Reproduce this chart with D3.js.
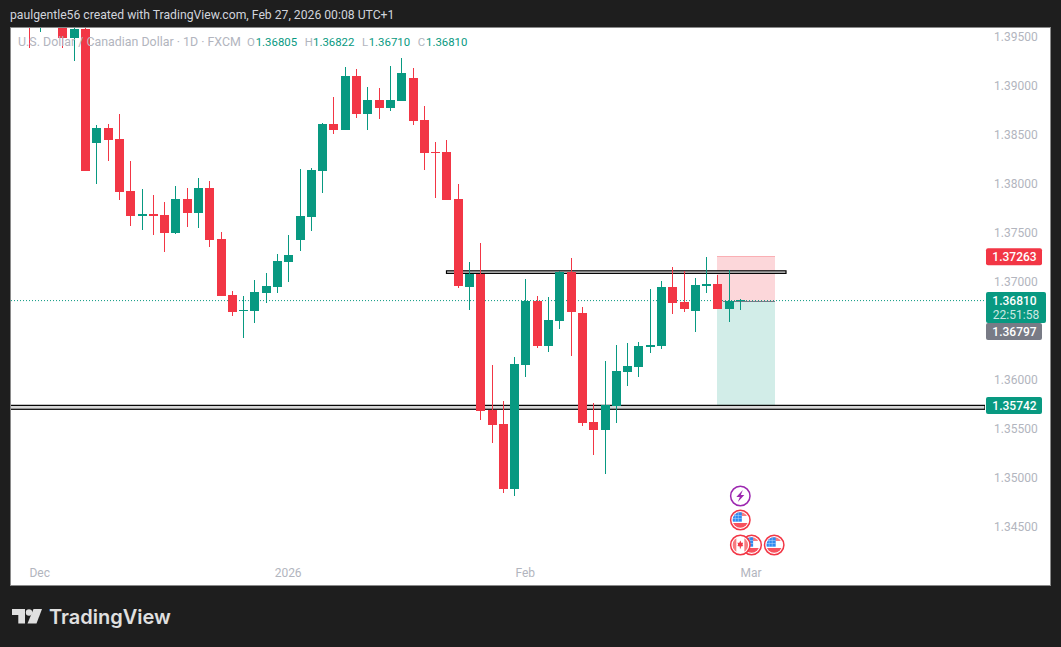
<!DOCTYPE html>
<html>
<head>
<meta charset="utf-8">
<script src="https://cdn.jsdelivr.net/npm/d3@7"></script>
<style>
html, body { margin: 0; padding: 0; background: #1e1e1e; overflow: hidden; }
svg { display: block; }
text { font-family: Roboto, "Liberation Sans", sans-serif; }
</style>
</head>
<body>
<div id="chart"></div>
<script>
// daily bars, last few categories are future sessions on the time axis
var dates = ["Nov 28","Dec 1","Dec 2","Dec 3","Dec 4","Dec 5","Dec 8","Dec 9","Dec 10","Dec 11","Dec 12","Dec 15","Dec 16","Dec 17","Dec 18","Dec 19","Dec 22","Dec 23","Dec 24","Dec 26","Dec 29","Dec 30","Dec 31","Jan 2","Jan 5","Jan 6","Jan 7","Jan 8","Jan 9","Jan 12","Jan 13","Jan 14","Jan 15","Jan 16","Jan 19","Jan 20","Jan 21","Jan 22","Jan 23","Jan 26","Jan 27","Jan 28","Jan 29","Jan 30","Feb 2","Feb 3","Feb 4","Feb 5","Feb 6","Feb 9","Feb 10","Feb 11","Feb 12","Feb 13","Feb 16","Feb 17","Feb 18","Feb 19","Feb 20","Feb 23","Feb 24","Feb 25","Feb 26","Feb 27"];
var futureDates = ["Mar 2","Mar 3","Mar 4"];

var opens = [1.39690,1.39640,1.39780,1.39660,1.39486,1.39578,1.38414,1.38567,1.38455,1.37924,1.37668,1.37689,1.37678,1.37495,1.37842,1.37699,1.37954,1.37433,1.36861,1.36698,1.36698,1.36882,1.36943,1.37198,1.37423,1.37658,1.38128,1.38608,1.38546,1.39098,1.38710,1.38853,1.38771,1.38843,1.39077,1.38649,1.38322,1.38322,1.37842,1.36943,1.37076,1.35687,1.35544,1.34880,1.36147,1.36800,1.36341,1.36596,1.37096,1.36678,1.35564,1.35483,1.35728,1.36075,1.36126,1.36330,1.36341,1.36943,1.36790,1.36698,1.36953,1.36974,1.36718,1.36805];
var highs = [1.39760,1.39760,1.39800,1.39700,1.39600,1.39600,1.38597,1.38608,1.38710,1.38230,1.37944,1.37883,1.37811,1.37975,1.37954,1.38056,1.38026,1.37505,1.36902,1.36851,1.37015,1.37086,1.37280,1.37474,1.38148,1.38158,1.38618,1.38883,1.39190,1.39169,1.38986,1.38975,1.39200,1.39282,1.39180,1.38792,1.38424,1.38444,1.37995,1.37198,1.37392,1.36147,1.35779,1.36228,1.37025,1.36851,1.36841,1.37107,1.37239,1.36739,1.35759,1.36187,1.36351,1.36371,1.36382,1.36923,1.37004,1.37147,1.37107,1.37035,1.37250,1.37066,1.37117,1.36822];
var lows = [1.39384,1.39547,1.39620,1.39384,1.39251,1.38128,1.37995,1.38230,1.37832,1.37566,1.37525,1.37474,1.37301,1.37484,1.37556,1.37546,1.37352,1.36851,1.36647,1.36422,1.36576,1.36780,1.36882,1.36994,1.37311,1.37515,1.37903,1.38506,1.38546,1.38669,1.38546,1.38659,1.38740,1.38843,1.38597,1.38138,1.37852,1.37832,1.36933,1.36708,1.35585,1.35350,1.34839,1.34809,1.36024,1.36320,1.36279,1.36514,1.36239,1.35524,1.35228,1.35034,1.35554,1.35932,1.36024,1.36269,1.36310,1.36667,1.36688,1.36484,1.36882,1.36718,1.36586,1.36710];
var closes = [1.39620,1.39710,1.39650,1.39486,1.39578,1.38128,1.38567,1.38444,1.37913,1.37668,1.37689,1.37668,1.37495,1.37842,1.37699,1.37954,1.37423,1.36851,1.36688,1.36708,1.36892,1.36953,1.37209,1.37270,1.37668,1.38138,1.38608,1.38546,1.39098,1.38710,1.38853,1.38771,1.38853,1.39129,1.38638,1.38312,1.38312,1.37832,1.36953,1.37076,1.35677,1.35534,1.34880,1.36157,1.36800,1.36341,1.36606,1.37096,1.36688,1.35554,1.35483,1.35738,1.36085,1.36136,1.36341,1.36351,1.36943,1.36780,1.36718,1.36964,1.36974,1.36718,1.36800,1.36810];

var priceTicks = [1.395,1.39,1.385,1.38,1.375,1.37,1.36,1.355,1.35,1.345];
var timeTicks = ["Dec 1","Jan 2","Feb 2","Mar 2"];
var timeTickLabels = ["Dec","2026","Feb","Mar"];

var lastPrice = 1.36810;
var stopPrice = 1.37263;
var entryPrice = 1.36797;
var targetPrice = 1.35742;
var countdown = "22:51:58";

var zoneTop = [1.37109, 1.37083];
var zoneBottom = [1.35735, 1.35695];

var events = [
  { date: "Feb 27", row: 0, kind: "bolt" },
  { date: "Feb 27", row: 1, kind: "us" },
  { date: "Mar 2", row: 2, kind: "us" },
  { date: "Feb 27", row: 2, kind: "ca" },
  { date: "Mar 4", row: 2, kind: "us" }
];

var red = "#f23645", teal = "#089981", grey = "#787b86", axisText = "#b2b5be";

var svg = d3.select("#chart").append("svg")
  .attr("width", 1061)
  .attr("height", 647);

svg.append("rect").attr("width", 1061).attr("height", 647).attr("fill", "#1e1e1e");
svg.append("rect")
  .attr("x", 10.5).attr("y", 27.5)
  .attr("width", 1040).attr("height", 558)
  .attr("fill", "#fff")
  .attr("stroke", "#8a8a8a");

svg.append("defs").append("clipPath").attr("id", "pane")
  .append("rect").attr("x", 11).attr("y", 28).attr("width", 974).attr("height", 557);

var x = d3.scalePoint()
  .domain(dates.concat(futureDates))
  .range([28.9, 774.2]);

var y = d3.scaleLinear()
  .domain([1.395, 1.345])
  .range([36.7, 526.3]);

// snap a bar to its pixel column
function col(d) { return Math.round(x(d) - 0.3); }

var pane = svg.append("g").attr("clip-path", "url(#pane)");

// position tool
var toolX = col("Feb 25"), toolW = col("Mar 4") + 1 - toolX;
pane.append("rect")
  .attr("x", toolX).attr("width", toolW)
  .attr("y", Math.round(y(stopPrice))).attr("height", Math.round(y(entryPrice)) - Math.round(y(stopPrice)) + 1)
  .attr("fill", red).attr("fill-opacity", 0.2);
pane.append("rect")
  .attr("x", toolX).attr("width", toolW)
  .attr("y", Math.round(y(entryPrice)) + 1).attr("height", Math.round(y(targetPrice)) - Math.round(y(entryPrice)))
  .attr("fill", teal).attr("fill-opacity", 0.18);
pane.append("line")
  .attr("x1", toolX).attr("x2", toolX + toolW)
  .attr("y1", Math.round(y(stopPrice)) + 0.5).attr("y2", Math.round(y(stopPrice)) + 0.5)
  .attr("stroke", red).attr("stroke-opacity", 0.25);
pane.append("line")
  .attr("x1", x("Feb 26") - 6).attr("x2", toolX + toolW)
  .attr("y1", Math.round(y(entryPrice)) + 0.5).attr("y2", Math.round(y(entryPrice)) + 0.5)
  .attr("stroke", grey).attr("stroke-width", 1.2);

// hand drawn zones
pane.append("rect")
  .attr("x", 446.5).attr("width", 339.5)
  .attr("y", y(zoneTop[0])).attr("height", y(zoneTop[1]) - y(zoneTop[0]))
  .attr("fill", "#d8d8d8").attr("stroke", "#000").attr("stroke-width", 1.2);
pane.append("rect")
  .attr("x", 5).attr("width", 980)
  .attr("y", y(zoneBottom[0])).attr("height", y(zoneBottom[1]) - y(zoneBottom[0]))
  .attr("fill", "#d8d8d8").attr("stroke", "#000").attr("stroke-width", 1.2);

// last price line
pane.append("line")
  .attr("x1", 11).attr("x2", 985)
  .attr("y1", y(lastPrice) + 0.5).attr("y2", y(lastPrice) + 0.5)
  .attr("stroke", teal)
  .attr("stroke-dasharray", "1,2");

// candles
var candles = pane.selectAll("g.candle")
  .data(dates)
  .enter()
  .append("g")
  .attr("class", "candle")
  .attr("fill", function(d, i) { return closes[i] >= opens[i] ? teal : red; });

candles.append("rect")
  .attr("x", function(d) { return col(d); })
  .attr("width", 1)
  .attr("y", function(d, i) { return Math.round(y(highs[i])); })
  .attr("height", function(d, i) { return Math.round(y(lows[i])) - Math.round(y(highs[i])); });

candles.append("rect")
  .attr("x", function(d) { return col(d) - 4; })
  .attr("width", 9)
  .attr("y", function(d, i) { return Math.round(y(Math.max(opens[i], closes[i]))); })
  .attr("height", function(d, i) {
    return Math.max(1, Math.round(y(Math.min(opens[i], closes[i]))) - Math.round(y(Math.max(opens[i], closes[i]))));
  });

// axes
var yAxis = d3.axisRight(y)
  .tickValues(priceTicks)
  .tickSize(0)
  .tickPadding(0)
  .tickFormat(d3.format(".5f"));
var yAxisG = svg.append("g").attr("transform", "translate(994,0)").call(yAxis);
yAxisG.select(".domain").remove();
yAxisG.selectAll("text").attr("fill", axisText).style("font-family", "Roboto").style("font-size", "12px");

var xAxis = d3.axisBottom(x)
  .tickValues(timeTicks)
  .tickSize(0)
  .tickPadding(0)
  .tickFormat(function(d) { return timeTickLabels[timeTicks.indexOf(d)]; });
var xAxisG = svg.append("g").attr("transform", "translate(-1,568.5)").call(xAxis);
xAxisG.select(".domain").remove();
xAxisG.selectAll("text").attr("fill", axisText).style("font-family", "Roboto").style("font-size", "12px");

// price labels
function priceLabel(top, w, h, fill, txt) {
  svg.append("rect").attr("x", 986).attr("y", top).attr("width", w).attr("height", h).attr("rx", 2).attr("fill", fill);
  svg.append("text").attr("x", 1014.5).attr("y", top + 13)
    .attr("text-anchor", "middle").attr("fill", "#fff")
    .style("font-size", "12px").style("font-weight", 500)
    .text(txt);
}
var fmt = d3.format(".5f");
priceLabel(y(stopPrice) - 7.6, 56, 17, red, fmt(stopPrice));
priceLabel(y(targetPrice) - 7.6, 56, 17, teal, fmt(targetPrice));
priceLabel(y(lastPrice) + 23, 56, 17, grey, fmt(entryPrice));
priceLabel(y(lastPrice) - 8, 60, 31, teal, fmt(lastPrice));
svg.append("text").attr("x", 1016).attr("y", y(lastPrice) + 18.5)
  .attr("text-anchor", "middle").attr("fill", "#fff").attr("fill-opacity", 0.8)
  .style("font-size", "12px")
  .text(countdown);

// event icons
var rowY = [496, 520, 545];
var icon = svg.selectAll("g.event")
  .data(events)
  .enter()
  .append("g")
  .attr("class", "event")
  .attr("transform", function(d) { return "translate(" + x(d.date) + "," + rowY[d.row] + ")"; });

icon.append("circle")
  .attr("r", 9.7)
  .attr("fill", "#fff")
  .attr("stroke", function(d) { return d.kind == "bolt" ? "#9c27b0" : red; })
  .attr("stroke-width", 1.5);

svg.select("defs").append("clipPath").attr("id", "flag").append("circle").attr("r", 7.8);

icon.each(function(d) {
  var g = d3.select(this);
  if (d.kind == "bolt") {
    g.append("path").attr("d", "M2.5,-6 L-4,1 L-0.5,1 L-2.5,6 L4,-1 L0.5,-1 Z").attr("fill", "#9c27b0");
  } else if (d.kind == "us") {
    var f = g.append("g").attr("clip-path", "url(#flag)");
    f.append("rect").attr("x", -8).attr("y", -8).attr("width", 16).attr("height", 4).attr("fill", "#f77c80");
    f.append("rect").attr("x", -8).attr("y", 3).attr("width", 16).attr("height", 5).attr("fill", "#f7525f");
    f.append("rect").attr("x", -8).attr("y", -8).attr("width", 9.5).attr("height", 9.7).attr("fill", "#2f8af0");
    f.selectAll("line.g1").data([-5, -2]).enter().append("line")
      .attr("x1", function(v) { return v; }).attr("x2", function(v) { return v; })
      .attr("y1", -8).attr("y2", 1.7).attr("stroke", "#bbd9fb").attr("stroke-width", 0.5);
    f.selectAll("line.g2").data([-4.5, -1.5]).enter().append("line")
      .attr("y1", function(v) { return v; }).attr("y2", function(v) { return v; })
      .attr("x1", -8).attr("x2", 1.5).attr("stroke", "#bbd9fb").attr("stroke-width", 0.5);
  } else {
    var c = g.append("g").attr("clip-path", "url(#flag)");
    c.append("rect").attr("x", -8).attr("y", -8).attr("width", 4).attr("height", 16).attr("fill", "#f77c80");
    c.append("rect").attr("x", 4).attr("y", -8).attr("width", 4).attr("height", 16).attr("fill", "#f77c80");
    c.append("path").attr("d", "M0,-4.5 L1.2,-2 L2.8,-2.5 L2.2,0 L3,1 L0.5,1.6 L0.5,3.5 L-0.5,3.5 L-0.5,1.6 L-3,1 L-2.2,0 L-2.8,-2.5 L-1.2,-2 Z").attr("fill", "#f23645");
  }
});

// header and legend
svg.append("text").attr("x", 10).attr("y", 19)
  .attr("fill", "#d1d4dc")
  .style("font-size", "12.2px")
  .text("paulgentle56 created with TradingView.com, Feb 27, 2026 00:08 UTC+1");

svg.append("text").attr("x", 18).attr("y", 46)
  .attr("fill", axisText)
  .style("font-size", "12.4px")
  .text("U.S. Dollar / Canadian Dollar \u00b7 1D \u00b7 FXCM");

var legendKeys = ["O", "H", "L", "C"];
var legendVals = [opens[63], highs[63], lows[63], closes[63]];
var legendX = [247, 304.7, 362, 417.7];
var legendValX = [255.7, 313, 368.7, 426];
legendKeys.forEach(function(k, i) {
  svg.append("text").attr("x", legendX[i]).attr("y", 46).attr("fill", axisText).style("font-size", "11.4px").text(k);
  svg.append("text").attr("x", legendValX[i]).attr("y", 46).attr("fill", teal).style("font-size", "11.4px").text(fmt(legendVals[i]));
});

// logo
var logo = svg.append("g").attr("fill", "#e0e0e0");
logo.append("path").attr("d", "M12,609 H25 V623.5 H18.3 V615 H12 Z");
logo.append("circle").attr("cx", 29).attr("cy", 612.5).attr("r", 3.2);
logo.append("path").attr("d", "M33.5,609 H42 L36.5,623.5 H27.5 Z");
svg.append("text").attr("x", 49).attr("y", 624)
  .attr("fill", "#e0e0e0")
  .style("font-family", "Inter")
  .style("font-size", "20px")
  .style("font-weight", 600)
  .text("TradingView");
</script>
</body>
</html>
